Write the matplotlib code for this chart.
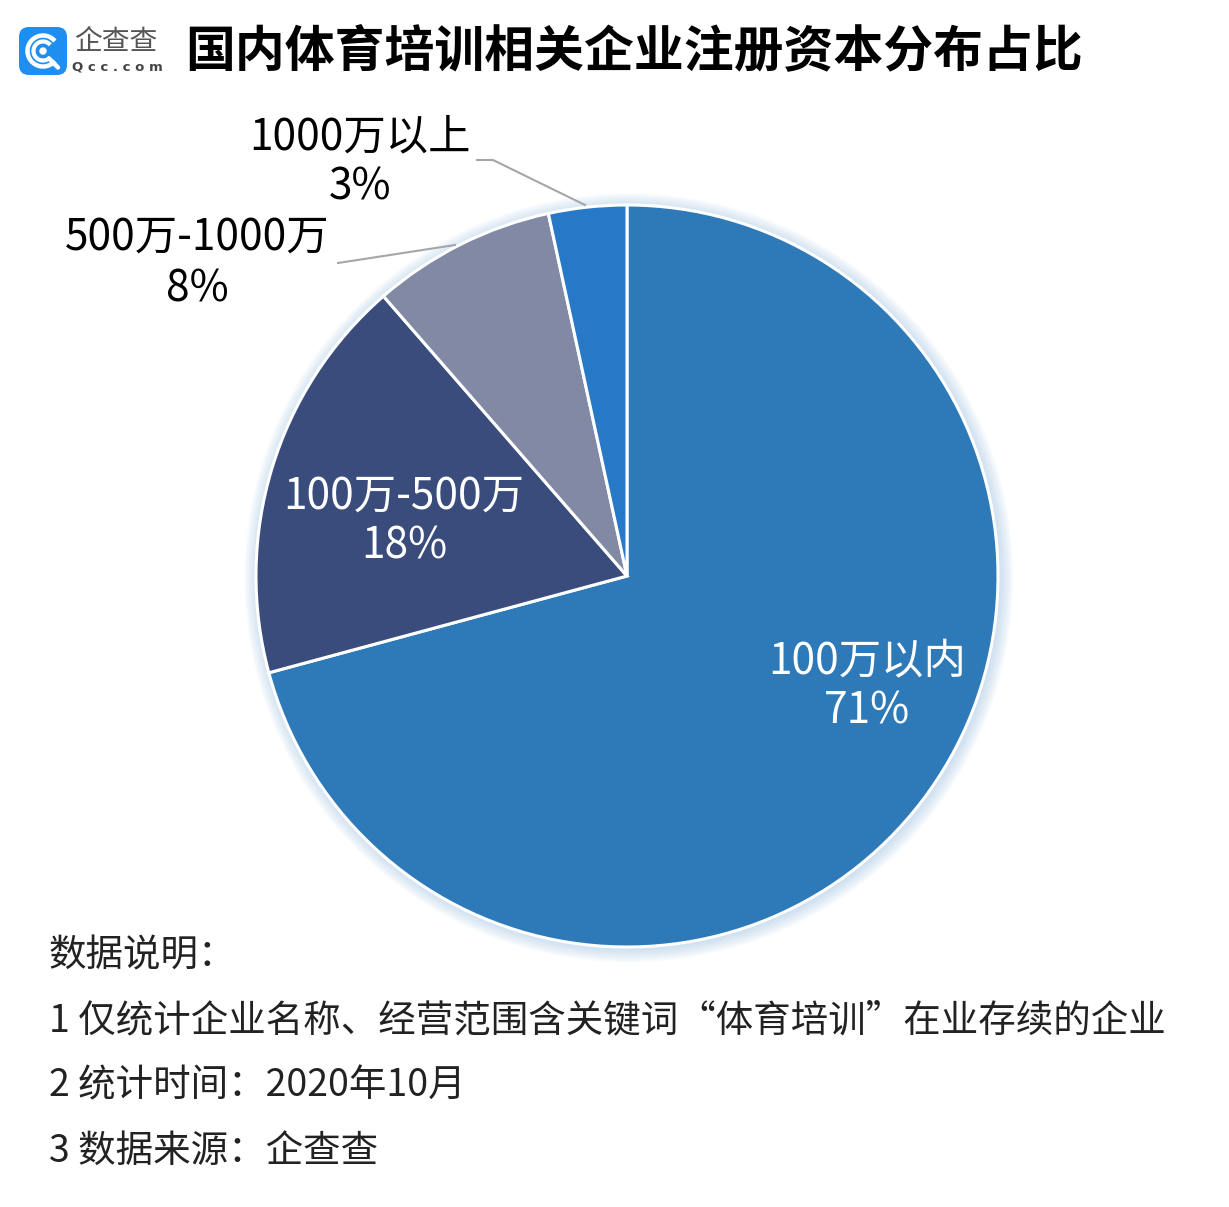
import numpy as np
import matplotlib.pyplot as plt
from matplotlib.patches import FancyBboxPatch, Arc, Circle

plt.rcParams['font.family'] = ['Noto Sans CJK SC', 'DejaVu Sans']

# data
labels = ['100万以内', '100万-500万', '500万-1000万', '1000万以上']
shares = [70.8, 17.8, 8.0, 3.4]
pct_text = ['71%', '18%', '8%', '3%']
colors = ['#2E79B7', '#3A4C7C', '#8189A5', '#2878C8']

title = '国内体育培训相关企业注册资本分布占比'
notes = ['数据说明：',
         '1 仅统计企业名称、经营范围含关键词“体育培训”在业存续的企业',
         '2 统计时间：2020年10月',
         '3 数据来源：企查查']

W, H = 1229, 1207
fig = plt.figure(figsize=(W / 100, H / 100), dpi=100)


def fx(px):
    return px / W


def fy(py):
    return 1 - py / H


# pie axes, centre (627, 576), radius 371 px
cx, cy, r = 627, 576, 371
ax = fig.add_axes([fx(cx - r), fy(cy + r), 2 * r / W, 2 * r / H])

# soft glow behind the pie
for i in range(10):
    ax.add_patch(Circle((0.005, -0.005), 1 + 0.004 * i, color='#a9c9e8',
                        alpha=0.07, zorder=0, lw=0, clip_on=False))

ax.pie(shares, colors=colors, startangle=90, counterclock=False, radius=1,
       wedgeprops=dict(edgecolor='white', linewidth=2.2, clip_on=False), frame=True)
ax.set_xlim(-1, 1)
ax.set_ylim(-1, 1)
ax.axis('off')

# slice labels
fs = 30.5
fig.text(fx(867), fy(662), labels[0], color='white', fontsize=fs, ha='center', va='center')
fig.text(fx(867), fy(711), pct_text[0], color='white', fontsize=fs, ha='center', va='center')
fig.text(fx(404), fy(497), labels[1], color='white', fontsize=fs, ha='center', va='center')
fig.text(fx(404), fy(547), pct_text[1], color='white', fontsize=fs, ha='center', va='center')
fig.text(fx(197), fy(238), labels[2], color='black', fontsize=fs, ha='center', va='center')
fig.text(fx(197), fy(289), pct_text[2], color='black', fontsize=fs, ha='center', va='center')
fig.text(fx(360), fy(137), labels[3], color='black', fontsize=fs, ha='center', va='center')
fig.text(fx(360), fy(188), pct_text[3], color='black', fontsize=fs, ha='center', va='center')

# leader lines
fig.add_artist(plt.Line2D([fx(338), fx(455)], [fy(263), fy(245)], color='#a6a6a6', lw=1.5))
fig.add_artist(plt.Line2D([fx(477), fx(493), fx(585)], [fy(160), fy(160), fy(205)],
                          color='#a6a6a6', lw=1.5))

# title
fig.text(fx(185), fy(52), title, fontsize=35.9, fontweight='black', ha='left', va='center')

# logo
lax = fig.add_axes([fx(18), fy(76), 50 / W, 50 / H])
lax.set_xlim(0, 1)
lax.set_ylim(0, 1)
lax.axis('off')
lax.add_patch(FancyBboxPatch((0.02, 0.02), 0.96, 0.96, boxstyle='round,pad=0,rounding_size=0.2',
                             fc='#1E8FF0', ec='none'))
for rr, lw in [(0.62, 3.2), (0.38, 3.0)]:
    lax.add_patch(Arc((0.5, 0.5), rr, rr, theta1=40, theta2=320, color='white', lw=lw))
lax.add_patch(Circle((0.5, 0.5), 0.06, color='white'))
lax.plot([0.62, 0.8], [0.35, 0.17], color='white', lw=3.2, solid_capstyle='round')
fig.text(fx(116), fy(42), '企查查', fontsize=20, color='#555555', ha='center', va='center')
fig.text(fx(117), fy(67), 'Q c c . c o m', fontsize=9.5, color='#444444', ha='center', va='center',
         family='DejaVu Sans', fontweight='bold')

# notes
for i, line in enumerate(notes):
    fig.text(fx(49), fy(956 + 65 * i), line, fontsize=27, color='#222222', ha='left', va='center')

fig.savefig('out.png', dpi=100, facecolor='white')
